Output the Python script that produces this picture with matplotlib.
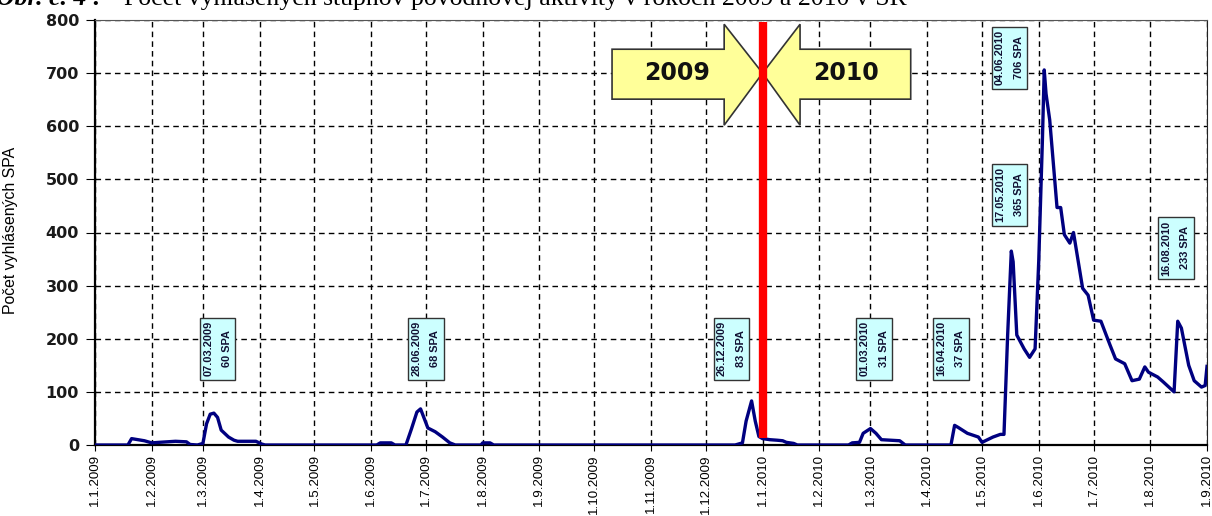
import datetime as dt

import matplotlib
matplotlib.use('Agg')
import matplotlib.pyplot as plt
import matplotlib.dates as mdates
from matplotlib import font_manager
from matplotlib.patches import Polygon
from matplotlib.ticker import FuncFormatter

# denne hodnoty odcitane z grafu (datum, pocet SPA)
dates = [
    '01.01.2009', '19.01.2009', '21.01.2009', '28.01.2009', '01.02.2009', '05.02.2009',
    '14.02.2009', '20.02.2009', '22.02.2009', '26.02.2009', '01.03.2009', '03.03.2009',
    '05.03.2009', '07.03.2009', '09.03.2009', '11.03.2009', '15.03.2009', '18.03.2009',
    '20.03.2009', '30.03.2009', '02.04.2009', '04.04.2009', '04.06.2009', '06.06.2009',
    '12.06.2009', '14.06.2009', '20.06.2009', '23.06.2009', '26.06.2009', '28.06.2009',
    '30.06.2009', '02.07.2009', '06.07.2009', '10.07.2009', '14.07.2009', '17.07.2009',
    '31.07.2009', '01.08.2009', '05.08.2009', '07.08.2009', '17.12.2009', '21.12.2009',
    '23.12.2009', '26.12.2009', '28.12.2009', '30.12.2009', '01.01.2010', '05.01.2010',
    '09.01.2010', '12.01.2010', '14.01.2010', '18.01.2010', '20.01.2010', '17.02.2010',
    '19.02.2010', '23.02.2010', '25.02.2010', '01.03.2010', '04.03.2010', '07.03.2010',
    '17.03.2010', '20.03.2010', '14.04.2010', '16.04.2010', '18.04.2010', '23.04.2010',
    '29.04.2010', '01.05.2010', '04.05.2010', '07.05.2010', '11.05.2010', '13.05.2010',
    '15.05.2010', '17.05.2010', '18.05.2010', '20.05.2010', '24.05.2010', '27.05.2010',
    '30.05.2010', '01.06.2010', '03.06.2010', '04.06.2010', '05.06.2010', '07.06.2010',
    '11.06.2010', '13.06.2010', '15.06.2010', '18.06.2010', '20.06.2010', '25.06.2010',
    '28.06.2010', '01.07.2010', '05.07.2010', '10.07.2010', '13.07.2010', '18.07.2010',
    '22.07.2010', '26.07.2010', '29.07.2010', '31.07.2010', '05.08.2010', '08.08.2010',
    '14.08.2010', '16.08.2010', '18.08.2010', '22.08.2010', '25.08.2010', '29.08.2010',
    '31.08.2010', '01.09.2010',
]
values = [
    0, 0, 12, 8, 4, 5,
    7, 6, 1, 0, 3, 40,
    58, 60, 52, 28, 15, 9,
    7, 7, 2, 0, 0, 4,
    4, 0, 0, 30, 62, 68,
    50, 32, 25, 15, 4, 0,
    0, 4, 4, 0, 0, 4,
    45, 83, 45, 16, 12, 10,
    9, 8, 5, 3, 0, 0,
    4, 5, 22, 31, 22, 10,
    8, 0, 0, 37, 33, 22,
    15, 5, 10, 15, 20, 20,
    207, 365, 345, 207, 181, 165,
    181, 346, 573, 706, 661, 612,
    447, 447, 396, 380, 400, 295,
    282, 235, 233, 188, 162, 153,
    121, 124, 147, 137, 128, 119,
    100, 233, 220, 150, 121, 109,
    112, 148,
]

# popisky maxim
peak_labels = ['07.03.2009\n60 SPA', '28.06.2009\n68 SPA', '26.12.2009\n83 SPA',
               '01.03.2010\n31 SPA', '16.04.2010\n37 SPA', '04.06.2010\n706 SPA',
               '17.05.2010\n365 SPA', '16.08.2010\n233 SPA']
label_pos = [('09.03.2009', 181), ('01.07.2009', 181), ('15.12.2009', 181),
             ('03.03.2010', 181), ('14.04.2010', 181), ('16.05.2010', 729),
             ('16.05.2010', 471), ('15.08.2010', 371)]

title = 'Počet vyhlásených stupňov povodňovej aktivity v rokoch 2009 a 2010 v SR'


def d(s):
    return dt.datetime.strptime(s, '%d.%m.%Y')


names = {f.name for f in font_manager.fontManager.ttflist}
narrow = 'Liberation Sans Narrow' if 'Liberation Sans Narrow' in names else 'Liberation Sans'
nscale = 1.0 if narrow == 'Liberation Sans Narrow' else 0.85

fig = plt.figure(figsize=(12.12, 5.16), dpi=100)
ax = fig.add_axes([95 / 1212, 1 - 445 / 516, 1112 / 1212, 425 / 516])

x = [d(s) for s in dates]
ax.plot(x, values, color='#000080', lw=2.4, zorder=4, solid_joinstyle='round')

start = d('01.01.2009')
end = d('01.09.2010')
ax.set_xlim(start, end)
ax.set_ylim(0, 800)
ax.set_yticks(range(0, 801, 100))

ax.xaxis.set_major_locator(mdates.MonthLocator())
ax.xaxis.set_major_formatter(FuncFormatter(
    lambda v, p: '%d.%d.%d' % (mdates.num2date(v).day, mdates.num2date(v).month,
                               mdates.num2date(v).year)))
ax.tick_params(axis='x', rotation=90, length=4, pad=2.5, labelsize=11.3 * nscale)
for t in ax.get_xticklabels():
    t.set_fontfamily(narrow)
ax.tick_params(axis='y', length=6.5, pad=5, labelsize=11.5)
for t in ax.get_yticklabels():
    t.set_fontweight('bold')
    t.set_fontfamily('DejaVu Sans')
    t.set_color('#1a1a1a')

ax.grid(True, color='black', linestyle=(0, (4, 3)), lw=1.0, zorder=1)
ax.set_axisbelow(True)
for side in ['left', 'bottom']:
    ax.spines[side].set_linewidth(1.6)
ax.spines['top'].set_color('#555555')
ax.spines['right'].set_color('#222222')

ax.set_ylabel('Počet vyhlásených SPA', fontfamily=narrow, fontsize=13.5 * nscale)
ax.yaxis.set_label_coords(-77 / 1112, 0.506)

# hranica rokov
y2010 = d('01.01.2010')
x0 = mdates.date2num(start)
x10 = mdates.date2num(y2010)
ax.plot([y2010, y2010], [13, 797], color='red', lw=6, solid_capstyle='butt', zorder=7)

# sipky 2009 / 2010
left_arrow = [(x0 + 282.7, 651), (x0 + 282.7, 745), (x0 + 344, 745), (x0 + 344, 792),
              (x10, 700), (x0 + 344, 602), (x0 + 344, 651)]
right_arrow = [(x0 + 446, 651), (x0 + 446, 745), (x0 + 385.5, 745), (x0 + 385.5, 792),
               (x10, 700), (x0 + 385.5, 602), (x0 + 385.5, 651)]
for pts in (left_arrow, right_arrow):
    ax.add_patch(Polygon(pts, closed=True, facecolor='#ffff99', edgecolor='#333333',
                         lw=1.2, zorder=6))
ax.text(x0 + 318.5, 700, '2009', ha='center', va='center', fontsize=17,
        fontweight='bold', family='DejaVu Sans', color='#111111', zorder=8)
ax.text(x0 + 410.5, 700, '2010', ha='center', va='center', fontsize=17,
        fontweight='bold', family='DejaVu Sans', color='#111111', zorder=8)

for lab, (ds, yv) in zip(peak_labels, label_pos):
    ax.text(d(ds), yv, lab, rotation=90, ha='center', va='center', ma='center',
            fontsize=9.3 * nscale, fontfamily=narrow, fontweight='bold', color='#111133',
            linespacing=2.1, zorder=9,
            bbox=dict(boxstyle='square,pad=0.3', facecolor='#ccffff',
                      edgecolor='#333333', lw=1.0))

# nadpis orezany hornym okrajom
fig.text(-4 / 1212, 1 - 5 / 516, 'Obr. č. 4 :', fontsize=18.5, family='Liberation Serif',
         fontweight='bold', fontstyle='italic', va='baseline', ha='left')
fig.text(124 / 1212, 1 - 5 / 516, title, fontsize=18.5, family='Liberation Serif',
         va='baseline', ha='left')

fig.savefig('out.png', dpi=100)
